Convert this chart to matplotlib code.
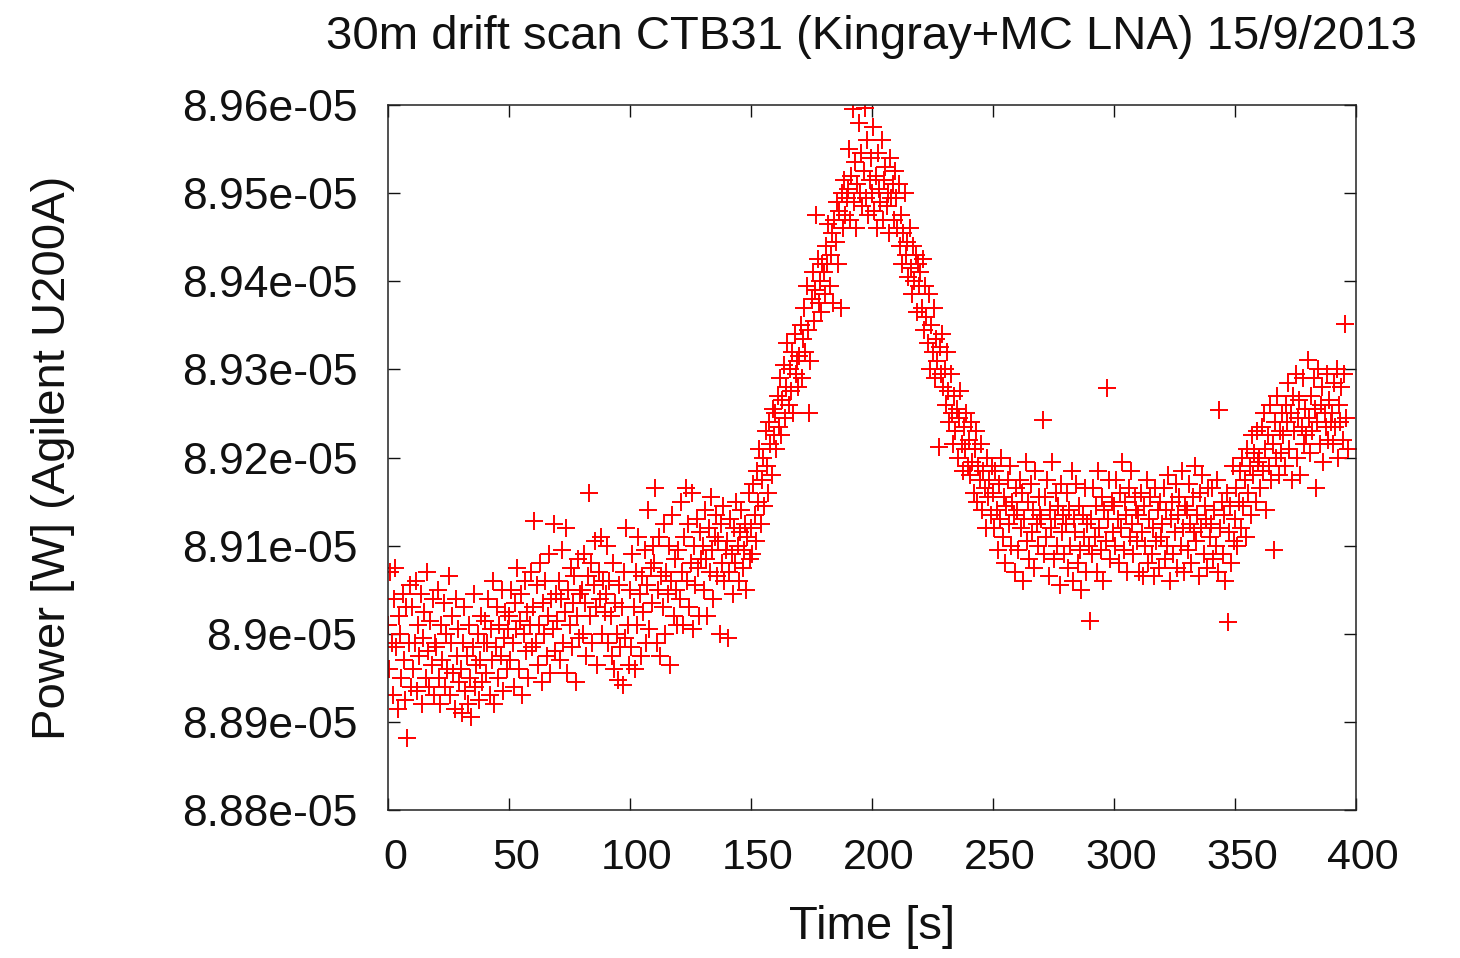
import numpy as np
import matplotlib
matplotlib.use("Agg")
import matplotlib.pyplot as plt
import matplotlib.transforms as mtransforms

plt.rcParams['font.family'] = ['Liberation Sans', 'DejaVu Sans']

# sampling interval of the drift scan [s]
sample_step = 0.5

# power readings in nW, 20 readings per 10 s row
power_nW = [
    # 0-10 s
    89010, 88960, 89070, 88990, 88930, 89040, 89075, 88985, 88915, 89020, 89000, 88950, 89045, 88970, 88925, 89030, 88882, 88990, 89055, 88940,
    # 10-20 s
    89030, 88960, 88990, 89060, 88935, 89010, 88975, 89045, 88920, 88995, 89025, 88950, 89070, 88980, 88940, 89015, 88965, 89040, 88930, 88990,
    # 20-30 s
    88985, 89050, 88950, 88920, 89010, 88970, 89035, 88940, 89000, 88960, 89065, 88930, 88990, 89020, 88955, 88915, 89040, 88975, 89005, 88945,
    # 30-40 s
    88960, 88910, 88990, 89030, 88935, 88975, 88920, 89010, 88950, 88905, 88985, 89045, 88940, 88965, 89000, 88925, 88970, 89020, 88945, 88990,
    # 40-50 s
    89015, 88955, 88990, 89040, 88930, 89005, 88970, 89060, 88920, 88985, 89030, 88950, 89010, 88975, 89050, 88935, 88995, 89025, 88960, 89005,
    # 50-60 s
    89020, 88970, 89050, 88990, 88940, 89035, 89005, 89075, 88960, 89015, 89045, 88930, 89000, 89060, 88980, 89025, 88950, 89010, 89070, 88985,
    # 60-70 s
    89030, 89128, 88990, 89055, 88965, 89010, 89080, 88945, 89035, 89000, 89060, 88975, 89020, 89090, 88955, 89040, 89005, 89125, 88980, 89045,
    # 70-80 s
    89015, 89060, 88970, 89040, 89095, 88990, 89025, 89120, 88955, 89050, 89010, 89075, 88985, 89035, 89065, 88945, 89020, 89085, 88995, 89045,
    # 80-90 s
    89050, 89000, 89090, 89035, 88975, 89065, 89160, 89020, 89080, 88990, 89055, 89105, 89030, 88965, 89070, 89040, 89110, 89000, 89060, 89025,
    # 90-100 s
    89045, 89100, 88990, 89060, 89020, 88975, 89080, 88960, 89035, 89000, 88948, 89055, 88985, 89030, 88942, 89070, 88995, 89120, 89010, 88965,
    # 100-110 s
    89050, 88985, 89090, 89030, 88960, 89070, 89010, 89110, 89045, 88975, 89065, 89025, 89095, 88990, 89055, 89140, 89005, 89075, 89035, 89100,
    # 110-120 s
    89080, 89165, 88990, 89050, 89110, 88975, 89065, 89030, 89125, 89000, 89070, 89045, 89100, 88965, 89060, 89135, 89020, 89085, 89050, 89010,
    # 120-130 s
    89095, 89040, 89150, 89070, 89010, 89110, 89165, 89060, 89125, 89030, 89080, 89160, 89005, 89100, 89055, 89130, 89075, 89020, 89115, 89085,
    # 130-140 s
    89100, 89050, 89140, 89085, 89020, 89120, 89070, 89155, 89095, 89040, 89110, 89135, 89065, 89105, 89000, 89125, 89080, 89145, 89060, 89095,
    # 140-150 s
    89105, 88995, 89070, 89130, 89090, 89045, 89120, 89080, 89150, 89100, 89060, 89115, 89140, 89075, 89095, 89125, 89050, 89110, 89160, 89085,
    # 150-160 s
    89120, 89090, 89170, 89135, 89105, 89185, 89150, 89210, 89125, 89175, 89200, 89145, 89230, 89190, 89160, 89240, 89215, 89180, 89255, 89225,
    # 160-170 s
    89250, 89210, 89270, 89235, 89290, 89225, 89265, 89305, 89245, 89280, 89330, 89260, 89300, 89275, 89320, 89250, 89340, 89295, 89310, 89280,
    # 170-180 s
    89315, 89350, 89290, 89335, 89370, 89320, 89395, 89345, 89250, 89310, 89380, 89410, 89355, 89390, 89475, 89425, 89375, 89400, 89365, 89420,
    # 180-190 s
    89410, 89385, 89440, 89420, 89465, 89395, 89430, 89455, 89375, 89470, 89445, 89490, 89420, 89480, 89370, 89500, 89460, 89515, 89475, 89495,
    # 190-200 s
    89505, 89550, 89470, 89520, 89595, 89490, 89535, 89460, 89510, 89580, 89500, 89545, 89485, 89525, 89597, 89495, 89560, 89475, 89515, 89540,
    # 200-210 s
    89500, 89575, 89480, 89520, 89460, 89545, 89505, 89490, 89560, 89470, 89515, 89530, 89485, 89500, 89455, 89540, 89495, 89510, 89470, 89525,
    # 210-220 s
    89495, 89460, 89510, 89440, 89475, 89420, 89455, 89500, 89430, 89445, 89405, 89460, 89415, 89385, 89440, 89400, 89430, 89365, 89420, 89395,
    # 220-230 s
    89410, 89370, 89425, 89345, 89395, 89360, 89330, 89385, 89300, 89350, 89320, 89370, 89290, 89335, 89310, 89212, 89325, 89295, 89340, 89280,
    # 230-240 s
    89300, 89260, 89320, 89275, 89240, 89295, 89250, 89215, 89270, 89230, 89255, 89200, 89245, 89275, 89215, 89185, 89235, 89210, 89250, 89190,
    # 240-250 s
    89220, 89180, 89240, 89195, 89160, 89210, 89230, 89150, 89190, 89175, 89215, 89140, 89185, 89165, 89120, 89200, 89155, 89175, 89135, 89190,
    # 250-260 s
    89160, 89120, 89185, 89140, 89095, 89170, 89130, 89200, 89110, 89155, 89080, 89145, 89175, 89125, 89190, 89100, 89150, 89135, 89070, 89165,
    # 260-270 s
    89140, 89095, 89175, 89120, 89160, 89060, 89130, 89195, 89105, 89150, 89085, 89170, 89115, 89140, 89075, 89185, 89125, 89100, 89155, 89135,
    # 270-280 s
    89130, 89243, 89090, 89155, 89110, 89175, 89065, 89140, 89120, 89195, 89085, 89130, 89160, 89100, 89145, 89055, 89170, 89115, 89135, 89090,
    # 280-290 s
    89125, 89160, 89075, 89140, 89100, 89185, 89060, 89130, 89115, 89170, 89080, 89145, 89095, 89050, 89135, 89110, 89165, 89070, 89125, 89100,
    # 290-300 s
    89015, 89130, 89090, 89165, 89110, 89145, 89070, 89185, 89120, 89095, 89155, 89060, 89140, 89105, 89279, 89130, 89175, 89085, 89150, 89115,
    # 300-310 s
    89145, 89100, 89175, 89130, 89080, 89160, 89120, 89195, 89095, 89150, 89135, 89070, 89165, 89110, 89185, 89125, 89090, 89155, 89140, 89105,
    # 310-320 s
    89135, 89070, 89160, 89115, 89065, 89145, 89100, 89175, 89080, 89130, 89155, 89090, 89120, 89065, 89165, 89105, 89140, 89075, 89150, 89110,
    # 320-330 s
    89125, 89165, 89085, 89140, 89100, 89180, 89060, 89130, 89150, 89090, 89115, 89170, 89075, 89135, 89155, 89100, 89185, 89120, 89070, 89145,
    # 330-340 s
    89140, 89095, 89170, 89125, 89080, 89155, 89115, 89190, 89105, 89135, 89065, 89160, 89120, 89180, 89090, 89145, 89130, 89075, 89165, 89110,
    # 340-350 s
    89125, 89165, 89085, 89140, 89100, 89175, 89070, 89254, 89120, 89150, 89090, 89135, 89060, 89160, 89013, 89115, 89145, 89080, 89190, 89105,
    # 350-360 s
    89130, 89165, 89100, 89150, 89185, 89120, 89200, 89145, 89175, 89110, 89210, 89160, 89190, 89135, 89225, 89180, 89205, 89150, 89230, 89195,
    # 360-370 s
    89200, 89165, 89235, 89185, 89250, 89210, 89140, 89225, 89190, 89260, 89175, 89215, 89095, 89240, 89200, 89270, 89180, 89230, 89205, 89250,
    # 370-380 s
    89225, 89190, 89260, 89240, 89285, 89210, 89250, 89175, 89270, 89230, 89295, 89200, 89245, 89265, 89180, 89235, 89290, 89215, 89255, 89225,
    # 380-390 s
    89311, 89245, 89205, 89270, 89230, 89290, 89255, 89165, 89240, 89300, 89215, 89260, 89280, 89195, 89250, 89235, 89295, 89220, 89265, 89240,
    # 390-397 s
    89250, 89215, 89285, 89235, 89300, 89200, 89260, 89240, 89280, 89220, 89295, 89352, 89245, 89210,
]

x_ticks = [0, 50, 100, 150, 200, 250, 300, 350, 400]
y_ticks = [8.88e-05, 8.89e-05, 8.90e-05, 8.91e-05, 8.92e-05, 8.93e-05, 8.94e-05, 8.95e-05, 8.96e-05]
y_tick_labels = ['8.88e-05', '8.89e-05', '8.9e-05', '8.91e-05', '8.92e-05',
                 '8.93e-05', '8.94e-05', '8.95e-05', '8.96e-05']

power = np.array(power_nW) * 1e-9
time = np.arange(len(power)) * sample_step

fig = plt.figure(figsize=(14.6, 9.58), dpi=100)
ax = fig.add_axes([388 / 1460, 1 - 810 / 958, 968 / 1460, 705 / 958])

ax.plot(time, power, linestyle='none', marker='+', color='#ff0000',
        markersize=13.5, markeredgewidth=1.4)

ax.set_xlim(0, 400)
ax.set_ylim(8.88e-05, 8.96e-05)
ax.set_xticks(x_ticks)
ax.set_yticks(y_ticks)
ax.set_yticklabels(y_tick_labels)

ax.tick_params(axis='both', which='major', direction='in', length=8.6, width=1.0,
               top=True, right=True, labelsize=31, colors='#111111')
ax.tick_params(axis='y', pad=22, labelsize=32)
ax.tick_params(axis='x', pad=20)
for sp in ax.spines.values():
    sp.set_linewidth(1.1)
    sp.set_color('#222222')

# shift x tick labels a little to the right, like the original
offset = mtransforms.ScaledTranslation(7 / 100, 0, fig.dpi_scale_trans)
for lbl in ax.get_xticklabels():
    lbl.set_transform(lbl.get_transform() + offset)

ax.set_xlabel("Time [s]", fontsize=34, color='#111111')
ax.xaxis.set_label_coords(0.5, -0.135)
ax.set_ylabel("Power [W] (Agilent U200A)", fontsize=34, color='#111111')
ax.yaxis.set_label_coords(-0.323, 0.5)
ax.set_title("30m drift scan CTB31 (Kingray+MC LNA) 15/9/2013", fontsize=34,
             color='#111111', pad=40)

fig.savefig("out.png", dpi=100)
